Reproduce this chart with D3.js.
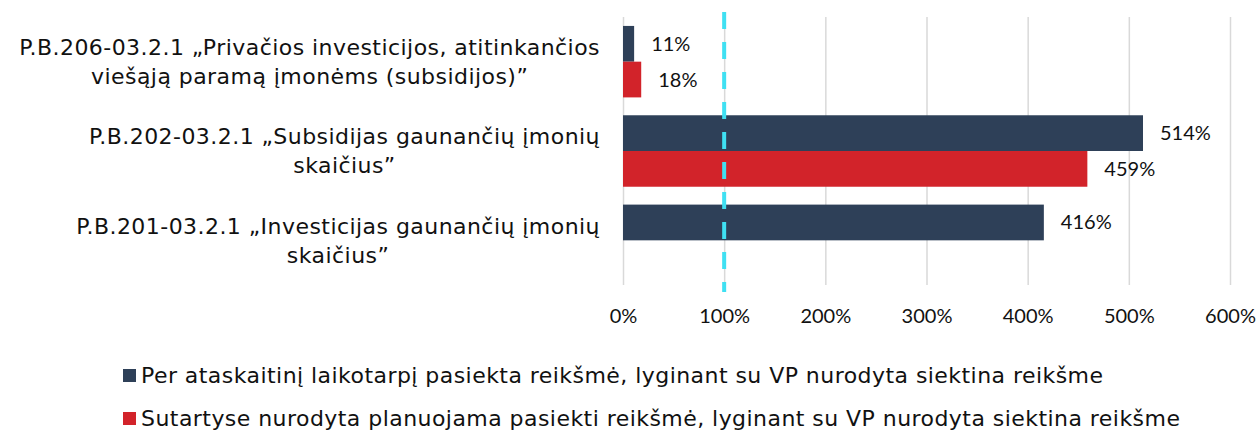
<!DOCTYPE html>
<html>
<head>
<meta charset="utf-8">
<script src="https://cdn.jsdelivr.net/npm/d3@7"></script>
<style>
  body { margin: 0; background: #fff; }
  .lbl { font-family: "DejaVu Sans", "Liberation Sans", sans-serif; font-size: 22px; letter-spacing: 0.45px; fill: #111; }
  .num { font-family: Lato, "Open Sans", sans-serif; font-size: 20px; fill: #111; }
</style>
</head>
<body>
<div id="chart"></div>
<script>
// categories, top to bottom, each split into lines
var categories = [
  ['P.B.206-03.2.1 \u201EPriva\u010Dios investicijos, atitinkan\u010Dios', 'vie\u0161\u0105j\u0105 param\u0105 \u012Fmon\u0117ms (subsidijos)\u201D'],
  ['P.B.202-03.2.1 \u201ESubsidijas gaunan\u010Di\u0173 \u012Fmoni\u0173', 'skai\u010Dius\u201D'],
  ['P.B.201-03.2.1 \u201EInvesticijas gaunan\u010Di\u0173 \u012Fmoni\u0173', 'skai\u010Dius\u201D']
];
var series1 = [0.11, 5.14, 4.16];  // pasiekta
var series2 = [0.18, 4.59, null];  // sutartyse
var seriesNames = [
  'Per ataskaitin\u012F laikotarp\u012F pasiekta reik\u0161m\u0117, lyginant su VP nurodyta siektina reik\u0161me',
  'Sutartyse nurodyta planuojama pasiekti reik\u0161m\u0117, lyginant su VP nurodyta siektina reik\u0161me'
];
var xTicks = [0, 1, 2, 3, 4, 5, 6];
var targetLine = 1;
var colors = ['#2e4058', '#d2232a'];

var width = 1258, height = 430;
var svg = d3.select('#chart').append('svg').attr('width', width).attr('height', height);

var xscale = d3.scaleLinear().domain([0, 6]).range([623, 1230]);
var yscale = d3.scaleBand().domain(d3.range(categories.length)).range([17, 285])
        .paddingInner(0.2).paddingOuter(0.1);
var sub = d3.scaleBand().domain([0, 1]).range([0, yscale.bandwidth()]);

// gridlines
svg.append('g')
        .attr('transform', 'translate(0,285)')
        .call(d3.axisBottom(xscale).tickValues(xTicks).tickSize(-268).tickFormat(''))
        .call(function (g) {
                g.select('.domain').remove();
                g.selectAll('line').attr('stroke', '#d9d9d9').attr('stroke-width', 1.5);
        });

// bars
var pairs = [series1, series2];
pairs.forEach(function (s, si) {
        var data = s.map(function (v, i) { return { i: i, v: v }; }).filter(function (d) { return d.v != null; });
        svg.append('g').selectAll('rect').data(data).enter().append('rect')
                .attr('x', xscale(0))
                .attr('y', function (d) { return yscale(d.i) + sub(si); })
                .attr('width', function (d) { return xscale(d.v) - xscale(0); })
                .attr('height', sub.bandwidth())
                .attr('fill', colors[si]);
        svg.append('g').selectAll('text').data(data).enter().append('text')
                .attr('class', 'num')
                .attr('x', function (d) { return xscale(d.v) + 17; })
                .attr('y', function (d) { return yscale(d.i) + sub(si) + sub.bandwidth() / 2; })
                .attr('dy', '0.35em')
                .text(function (d) { return Math.round(d.v * 100) + '%'; });
});

// target line at 100%
svg.append('line')
        .attr('x1', xscale(targetLine)).attr('x2', xscale(targetLine))
        .attr('y1', 12).attr('y2', 292)
        .attr('stroke', '#3fe0f2').attr('stroke-width', 4)
        .attr('stroke-dasharray', '17,13');

// x axis labels
svg.append('g')
        .attr('transform', 'translate(0,285)')
        .call(d3.axisBottom(xscale).tickValues(xTicks).tickSize(0).tickPadding(24)
                .tickFormat(function (d) { return (d * 100) + '%'; }))
        .call(function (g) {
                g.select('.domain').remove();
                g.selectAll('text').attr('class', 'num').attr('fill', null);
        });

// category labels: centered block, right edge at 600
categories.forEach(function (lines, i) {
        var g = svg.append('g');
        var cy = yscale(i) + yscale.bandwidth() / 2;
        var lh = 29;
        var t = g.append('text').attr('class', 'lbl').attr('text-anchor', 'middle');
        lines.forEach(function (ln, k) {
                t.append('tspan').attr('x', 0)
                        .attr('y', cy + (k - (lines.length - 1) / 2) * lh)
                        .attr('dy', '0.35em')
                        .text(ln);
        });
        var w = d3.max(t.selectAll('tspan').nodes(), function (n) { return n.getComputedTextLength(); });
        g.attr('transform', 'translate(' + (600 - w / 2) + ',0)');
});

// legend
var legend = svg.append('g');
seriesNames.forEach(function (name, i) {
        var y = 375 + i * 43;
        legend.append('rect').attr('x', 123).attr('y', y - 6).attr('width', 13).attr('height', 13).attr('fill', colors[i]);
        legend.append('text').attr('class', 'lbl').attr('x', 141).attr('y', y).attr('dy', '0.35em').text(name);
});
</script>
</body>
</html>
